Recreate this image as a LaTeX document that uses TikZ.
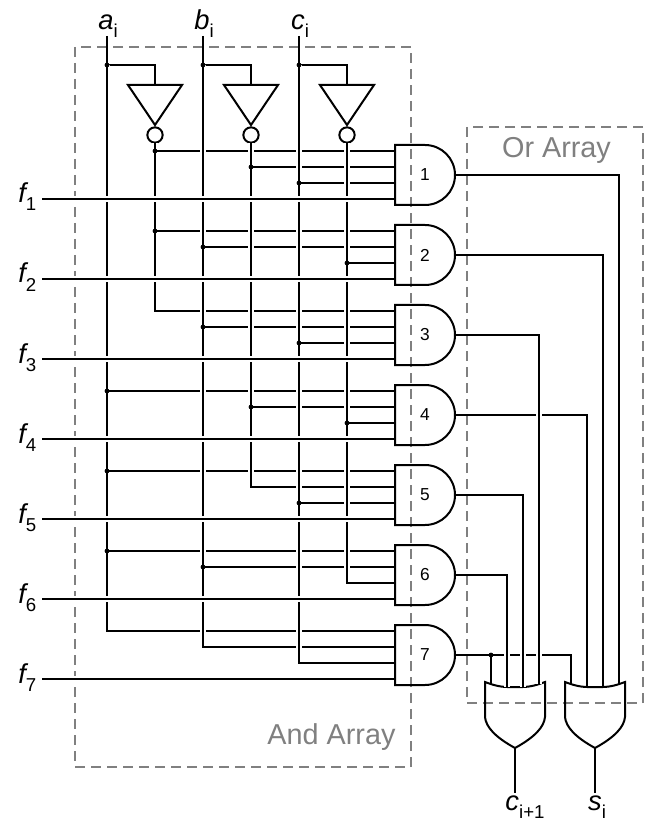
\documentclass[tikz,border=0pt]{standalone}
\usepackage{fontspec}
\setmainfont{Liberation Sans}
\newcommand{\sublabel}[2]{{\fontsize{20.5}{20}\selectfont\itshape #1}\raisebox{-6pt}{\fontsize{14}{14}\selectfont #2}}

\tikzset{
wire/.style={line width=1.5pt},
halo/.style={preaction={draw=white,line width=4.5pt}},
arraybox/.style={draw=gray,line width=1.5pt,dash pattern=on 7.5pt off 4.5pt},
arraylabel/.style={text=gray,font=\fontsize{21.6}{21}\selectfont,anchor=base},
andgate/.style={minimum width=45pt,minimum height=45pt,inner sep=0pt,outer sep=0pt,font=\fontsize{13}{13}\selectfont},
bubble/.style={draw,circle,line width=1.5pt,minimum size=11.5pt,inner sep=0pt,outer sep=0pt},
}

\begin{document}
\begin{tikzpicture}[x=0.75pt,y=-0.75pt]
\useasboundingbox (0,0) rectangle (663,837);

\draw[arraybox] (75,47) rectangle (411,767);
\draw[arraybox] (467,127) rectangle (643,703);
\node[arraylabel] (andlabel) at (331.5,744) {And Array};
\node[arraylabel] (orlabel) at (556.5,158) {Or Array};

% columns
\foreach \x/\v/\n in {107/a/a,203/b/b,299/c/c} {
  \node[anchor=base] (l\v) at (\x+1,30) {\sublabel{\n}{i}};
  \coordinate (\v top) at (\x,36);
  \coordinate (\v) at (\x,65);
  \draw[wire] (\v top) -- (\v);
}
\foreach \x/\v/\s in {155/a/na,251/b/nb,347/c/nc} {
  \coordinate (\s) at (\x,143);
  \coordinate (\s in) at (\x,85);
  \node[bubble] (\s bub) at (\x,135) {};
  \draw[wire,line join=miter] (\x-27,85) -- (\x+27,85) -- (\x,125) -- cycle;
  \draw[wire] (\v) -| (\s in);
}

% and gate pins
\foreach \k [evaluate=\k as \y using {175+80*(\k-1)}] in {1,...,7} {
  \node[andgate] (and\k) at (425,\y) {\k};
  \coordinate (and\k-1) at (395,\y-24);
  \coordinate (and\k-2) at (395,\y-8);
  \coordinate (and\k-3) at (395,\y+8);
  \coordinate (and\k-4) at (395,\y+24);
  \coordinate (f\k) at (42,\y+24);
}

% and inputs
\foreach \g/\s in {1-1/na,1-2/nb,1-3/c,2-1/na,2-2/b,2-3/nc,3-1/na,3-2/b,3-3/c,4-1/a,4-2/nb,4-3/nc,
  5-1/a,5-2/nb,5-3/c,6-1/a,6-2/b,6-3/nc,7-1/a,7-2/b,7-3/c}
  \draw[wire] (\s |- and\g) -- (and\g);

\foreach \s/\g in {a/7-1,na/3-1,b/7-2,nb/5-2,c/7-3,nc/6-3}
  \draw[wire,halo] (\s) -- (\s |- and\g);

\foreach \g/\s in {1-1/na,1-2/nb,1-3/c,2-1/na,2-2/b,2-3/nc,3-1/na,3-2/b,3-3/c,4-1/a,4-2/nb,4-3/nc,
  5-1/a,5-2/nb,5-3/c,6-1/a,6-2/b,6-3/nc,7-1/a,7-2/b,7-3/c}
  \draw[wire,line cap=rect] (\s |- and\g) -- ++(4,0);

\foreach \g/\s in {1-1/na,1-2/nb,1-3/c,2-1/na,2-2/b,2-3/nc,3-2/b,3-3/c,4-1/a,4-2/nb,4-3/nc,
  5-1/a,5-3/c,6-1/a,6-2/b}
  \fill (\s |- and\g) circle[radius=2.4];
\foreach \v in {a,b,c}
  \fill (\v) circle[radius=2.4];

\foreach \k [evaluate=\k as \y using {203+80*(\k-1)}] in {1,...,7} {
  \node[anchor=base west,inner sep=0pt] (lf\k) at (18,\y) {\sublabel{f}{\k}};
  \draw[wire,halo] (f\k) -- (and\k-4);
  \draw[wire] (and\k.north west) -- (and\k.north) arc[start angle=90,end angle=-90,radius=22.5pt] -- (and\k.south west) -- cycle;
}

% or gates
\foreach \k/\x in {1/515,2/595} {
  \coordinate (or\k-1) at (\x-24,684);
  \coordinate (or\k-2) at (\x-8,687);
  \coordinate (or\k-3) at (\x+8,687);
  \coordinate (or\k-4) at (\x+24,684);
  \coordinate (or\k tip) at (\x,748);
  \coordinate (out\k) at (\x,793);
  \draw[wire,line join=miter] (\x-30,682) .. controls (\x-22,685) and (\x-15,687) .. (or\k-2) -- (or\k-3)
    .. controls (\x+15,687) and (\x+22,685) .. (\x+30,682) -- (\x+30,717)
    .. controls (\x+29,727) and (\x+20,737) .. (or\k tip)
    .. controls (\x-20,737) and (\x-29,727) .. (\x-30,717) -- cycle;
  \draw[wire] (or\k tip) -- (out\k);
}
\node[anchor=base] (lc) at (525,810) {\sublabel{c}{i+1}};
\node[anchor=base] (ls) at (597,810) {\sublabel{s}{i}};

% or inputs
\draw[wire] (and7.east) -| (or2-1);
\draw[wire] (and4.east) -| (or2-2);
\draw[wire] (and2.east) -| (or2-3);
\draw[wire] (and1.east) -| (or2-4);
\foreach \o/\g in {2/6,3/5,4/3} {
  \draw[wire,halo] (or1-\o |- and\g.east) -- (or1-\o);
  \draw[wire] (and\g.east) -| (or1-\o);
}
\draw[wire] (or1-1 |- and7.east) -- (or1-1);
\fill (or1-1 |- and7.east) circle[radius=2.4];

\end{tikzpicture}
\end{document}
